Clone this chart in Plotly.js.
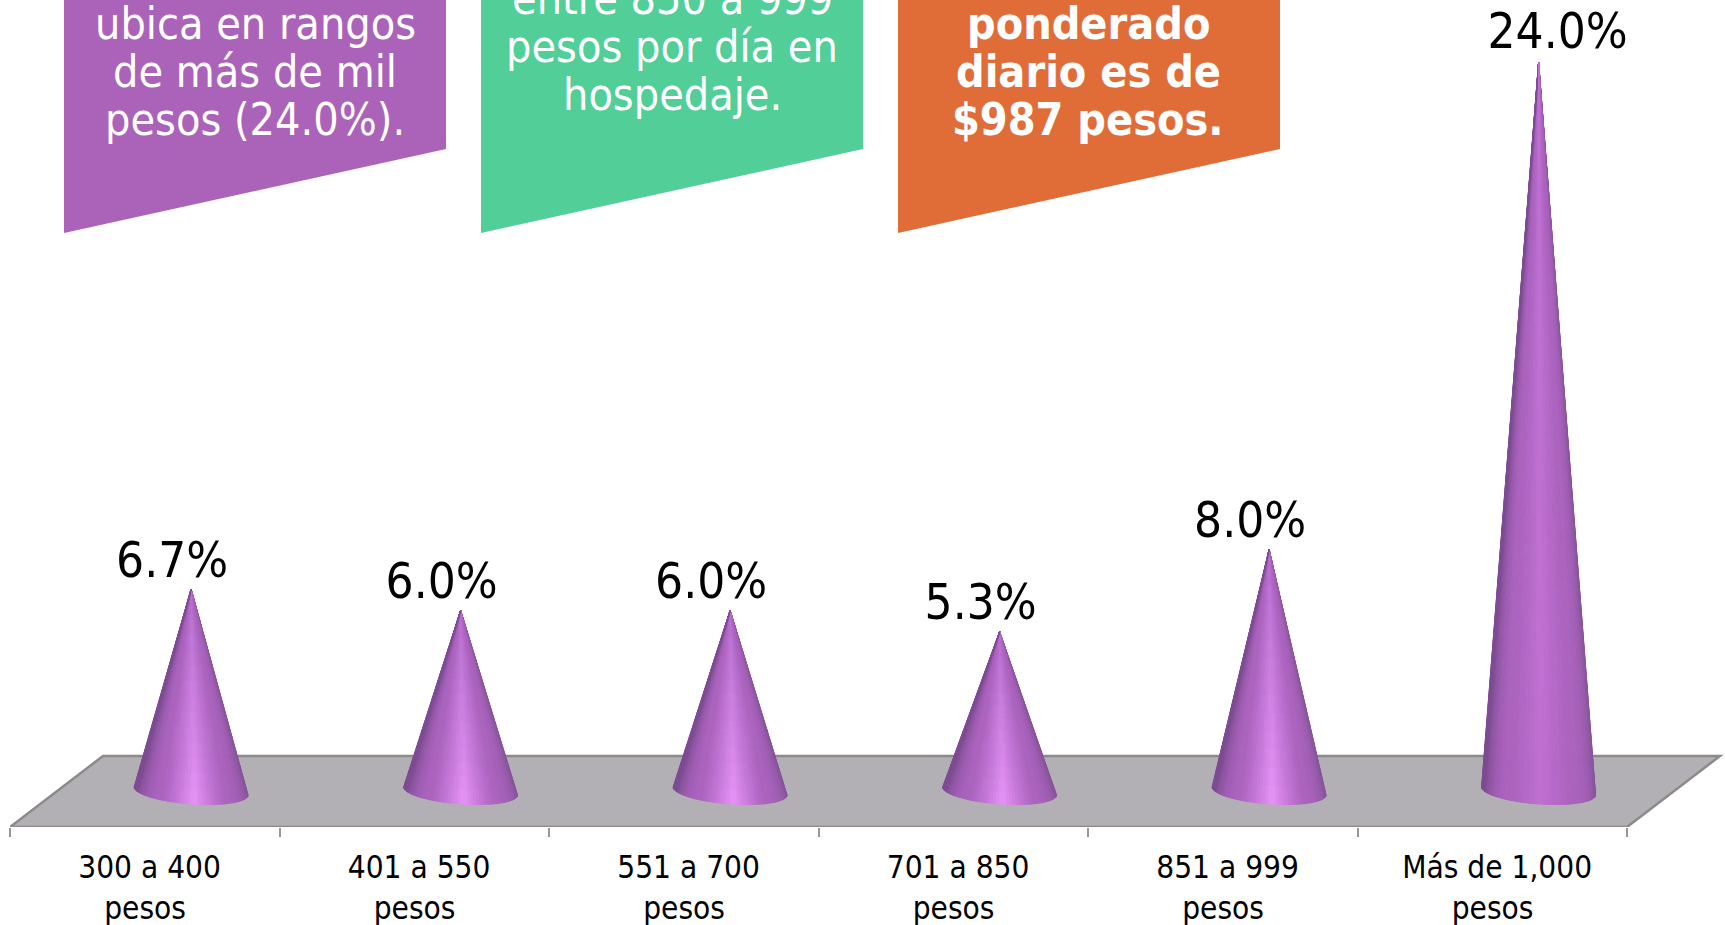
<!DOCTYPE html>
<html><head><meta charset="utf-8">
<script src="https://cdn.plot.ly/plotly-3.0.1.min.js"></script>
<style>html,body{margin:0;padding:0;background:#fff}#c{width:1725px;height:925px}</style>
</head><body><div id="c"></div>
<script>
// ---- data ----
const categories = ["300 a 400","401 a 550","551 a 700","701 a 850","851 a 999","Más de 1,000"];
const unitLine = "pesos";
const values = [6.7, 6.0, 6.0, 5.3, 8.0, 24.0];
const valueLabels = ["6.7%","6.0%","6.0%","5.3%","8.0%","24.0%"];
const purpleLines = ["ubica en rangos","de más de mil","pesos (24.0%)."];
const greenLines = ["entre 850 a 999","pesos por día en","hospedaje."];
const orangeLines = ["ponderado","diario es de","$987 pesos."];

// ---- frame geometry (pixels of the page) ----
const W=1725,H=925, L=10, FRONT=827;
const PXX=269.5, PXY=30.44, ZERO=793;       // px per category, px per %, px of 0 %
const yMin=(ZERO-FRONT)/PXY, yMax=ZERO/PXY, xMax=(W-L)/PXX;
const FONT='"DejaVu Sans Condensed","DejaVu Sans",sans-serif';

// ---- cones ----
const CONE_X=0.672, R=57/PXX, BASE_DY=2/PXY, B=13/PXY, TILT=4/PXY;
const STRIPS=56, ROWS=14;
const mix=(a,b,t)=>a.map((v,i)=>v+(b[i]-v)*t);
function shade(c,t,val){
  // c = cos of the angle round the cone (-1 left … 1 right), t = 0 tip … 1 base
  const tall = val>12;
  const peak = tall ? [192,112,210] : mix([184,112,208],[232,148,248],Math.pow(t,1.1));
  const mid  = [170,98,190];
  const edgeL= [126,76,146], edgeR=[120,78,140];
  const d=Math.abs(c-0.05);
  let col;
  if(d<0.55) col=mix(peak,mid,Math.pow(d/0.55,0.9));
  else { const e=Math.pow(Math.min(1,(d-0.55)/0.45),2.6); col=mix(mid,c<0?edgeL:edgeR,e); }
  return col;
}
const buckets=new Map();
function addQuad(col,xs,ys){
  const k=col.map(v=>Math.round(v/3)*3).join(',');
  if(!buckets.has(k)) buckets.set(k,{x:[],y:[]});
  const b=buckets.get(k);
  b.x.push(...xs,xs[0],null); b.y.push(...ys,ys[0],null);
}
values.forEach((val,i)=>{
  const cx=i+CONE_X;
  const bx=th=>cx+R*Math.cos(th);
  const by=th=>BASE_DY-TILT*Math.cos(th)-B*Math.sin(th);
  const pt=(th,t)=>[cx+(bx(th)-cx)*t, val+(by(th)-val)*t];
  for(let s=0;s<STRIPS;s++){
    const a=Math.PI*s/STRIPS, b=Math.PI*(s+1)/STRIPS, m=(a+b)/2;
    for(let r=0;r<ROWS;r++){
      const t0=r/ROWS,t1=(r+1)/ROWS;
      const p=[pt(a,t0),pt(b,t0),pt(b,t1),pt(a,t1)];
      addQuad(shade(Math.cos(m),(t0+t1)/2,val),p.map(q=>q[0]),p.map(q=>q[1]));
    }
  }
});
const traces=[...buckets.entries()].map(([k,b])=>({
  type:'scatter',mode:'lines',x:b.x,y:b.y,fill:'toself',fillcolor:`rgb(${k})`,
  line:{color:`rgb(${k})`,width:0.9},hoverinfo:'skip',showlegend:false,connectgaps:false
}));

// ---- value labels ----
const LABEL_DX=[-19,-19,-19,-19,-19,19];
traces.push({type:'scatter',mode:'text',
  x:values.map((v,i)=>i+CONE_X+LABEL_DX[i]/PXX),
  y:values.map(v=>v+(v>12?27:24.5)/PXY),
  text:valueLabels,textposition:'middle center',
  textfont:{family:FONT,size:49,color:'#000'},
  hoverinfo:'skip',showlegend:false,cliponaxis:false});

// ---- callouts ----
const px=x=>(x-L)/(W-L), py=y=>(FRONT-y)/FRONT;
function callout(x0,x1,color){
  return {type:'path',xref:'paper',yref:'paper',layer:'above',line:{width:0},fillcolor:color,
    path:`M${px(x0)},${py(-5)}L${px(x1)},${py(-5)}L${px(x1)},${py(149)}L${px(x0)},${py(233)}Z`};
}
function lines(arr,cx,y0,bold){
  return arr.map((t,i)=>({xref:'paper',yref:'paper',x:px(cx),y:py(y0+i*48.4),text:bold?`<b>${t}</b>`:t,
    showarrow:false,xanchor:'center',yanchor:'middle',font:{family:FONT,size:44.5,color:'#fff'}}));
}
const FLOOR_BACK=(ZERO-756)/PXY, FLOOR_DX=(103-L)/PXX, FLOOR_END=(1720-L)/PXX;
const floor={type:'path',xref:'x',yref:'y',layer:'below',fillcolor:'#b2afb5',line:{color:'#8b8b8b',width:2.5},
  path:`M0,${yMin}L6,${yMin}L${FLOOR_END},${FLOOR_BACK}L${FLOOR_DX},${FLOOR_BACK}Z`};

Plotly.newPlot('c',traces,{
  width:W,height:H,paper_bgcolor:'#fff',plot_bgcolor:'#fff',showlegend:false,
  margin:{l:L,r:0,t:0,b:H-FRONT,pad:0},
  xaxis:{range:[0,xMax],showgrid:false,zeroline:false,showline:false,
    tickmode:'array',tickvals:categories.map((c,i)=>i+0.518),
    ticktext:categories.map(c=>`${c}<br>${unitLine}\u00a0`),
    ticks:'',tickangle:0,ticklabelstandoff:19,
    tickfont:{family:FONT,size:31.3,color:'#000'},
    minor:{dtick:1,tick0:0,ticks:'outside',ticklen:9,tickwidth:2,tickcolor:'#969696',showgrid:false}},
  yaxis:{range:[yMin,yMax],visible:false},
  shapes:[floor,callout(64,446,'#ab63b9'),callout(481,863,'#52ce98'),callout(898,1280,'#e06c38')],
  annotations:[...lines(purpleLines,255,23,false),...lines(greenLines,672,-2,false),...lines(orangeLines,1088,23,true)]
},{displayModeBar:false,staticPlot:true});
</script></body></html>
